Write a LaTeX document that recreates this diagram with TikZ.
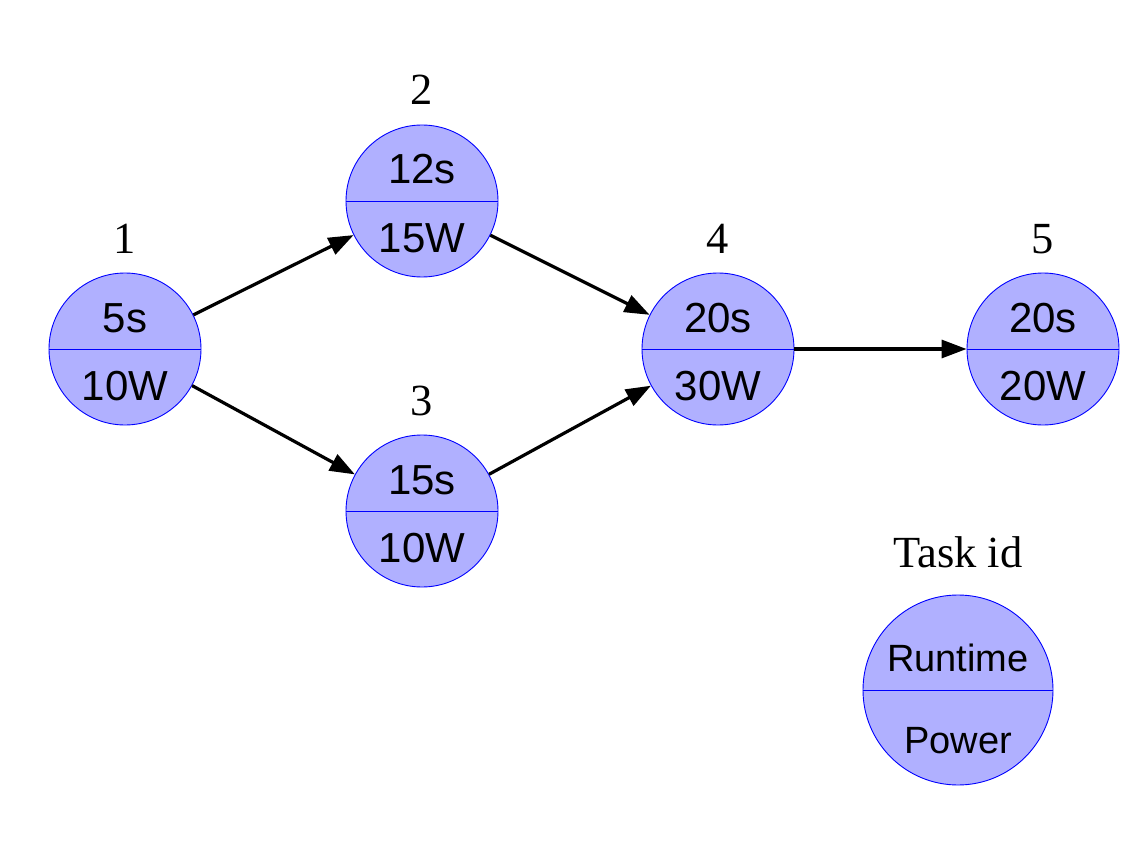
\documentclass[tikz,border=0pt]{standalone}
\usepackage{fontspec}
\setmainfont{Liberation Serif}
\newfontfamily\arialf{Liberation Sans}
\usetikzlibrary{arrows.meta}
\definecolor{taskfill}{RGB}{176,176,255}
\definecolor{taskline}{RGB}{0,0,255}
\tikzset{
  task/.style={circle, fill=taskfill, draw=taskline, line width=0.9pt, inner sep=0pt, minimum size=152pt},
  bigtask/.style={task, minimum size=190pt},
  val/.style={anchor=base, inner sep=0pt, font=\arialf\fontsize{42}{42}\selectfont},
  legval/.style={anchor=base, inner sep=0pt, font=\arialf\fontsize{38}{38}\selectfont},
  tid/.style={anchor=base, inner sep=0pt, font=\fontsize{44.5}{44.5}\selectfont},
  edge/.style={line width=3.2pt, -{Triangle[length=25pt,width=18pt]}},
  split/.style={draw=taskline, line width=0.9pt}
}
\begin{document}
\begin{tikzpicture}[x=1pt,y=-1pt]
\useasboundingbox (0,0) rectangle (1144,864);
% task circles
\node[task] (t1) at (125,349) {};
\node[task] (t2) at (422,201) {};
\node[task] (t3) at (422,511) {};
\node[task] (t4) at (718,349) {};
\node[task] (t5) at (1043,349) {};
\node[bigtask] (leg) at (958,690) {};
\foreach \n in {t1,t2,t3,t4,t5,leg} {\draw[split] (\n.west) -- (\n.east);}
% values
\node[val] (r1) at (125,332) {5s};
\node[val] (p1) at (125,400) {10W};
\node[val] (r2) at (422,184) {12s};
\node[val] (p2) at (422,252) {15W};
\node[val] (r3) at (422,494) {15s};
\node[val] (p3) at (422,562) {10W};
\node[val] (r4) at (718,332) {20s};
\node[val] (p4) at (718,400) {30W};
\node[val] (r5) at (1043,332) {20s};
\node[val] (p5) at (1043,400) {20W};
\node[legval] (lr) at (958,671) {Runtime};
\node[legval] (lp) at (958,753) {Power};
% ids
\node[tid] (i1) at (125,253) {1};
\node[tid] (i2) at (422,105) {2};
\node[tid] (i3) at (422,415) {3};
\node[tid] (i4) at (718,253) {4};
\node[tid] (i5) at (1043,253) {5};
\node[tid] (il) at (958,567) {Task id};
% edges
\draw[edge] (t1) -- (t2);
\draw[edge] (t1) -- (t3);
\draw[edge] (t2) -- (t4);
\draw[edge] (t3) -- (t4);
\draw[edge] (t4) -- (t5);
\end{tikzpicture}
\end{document}
